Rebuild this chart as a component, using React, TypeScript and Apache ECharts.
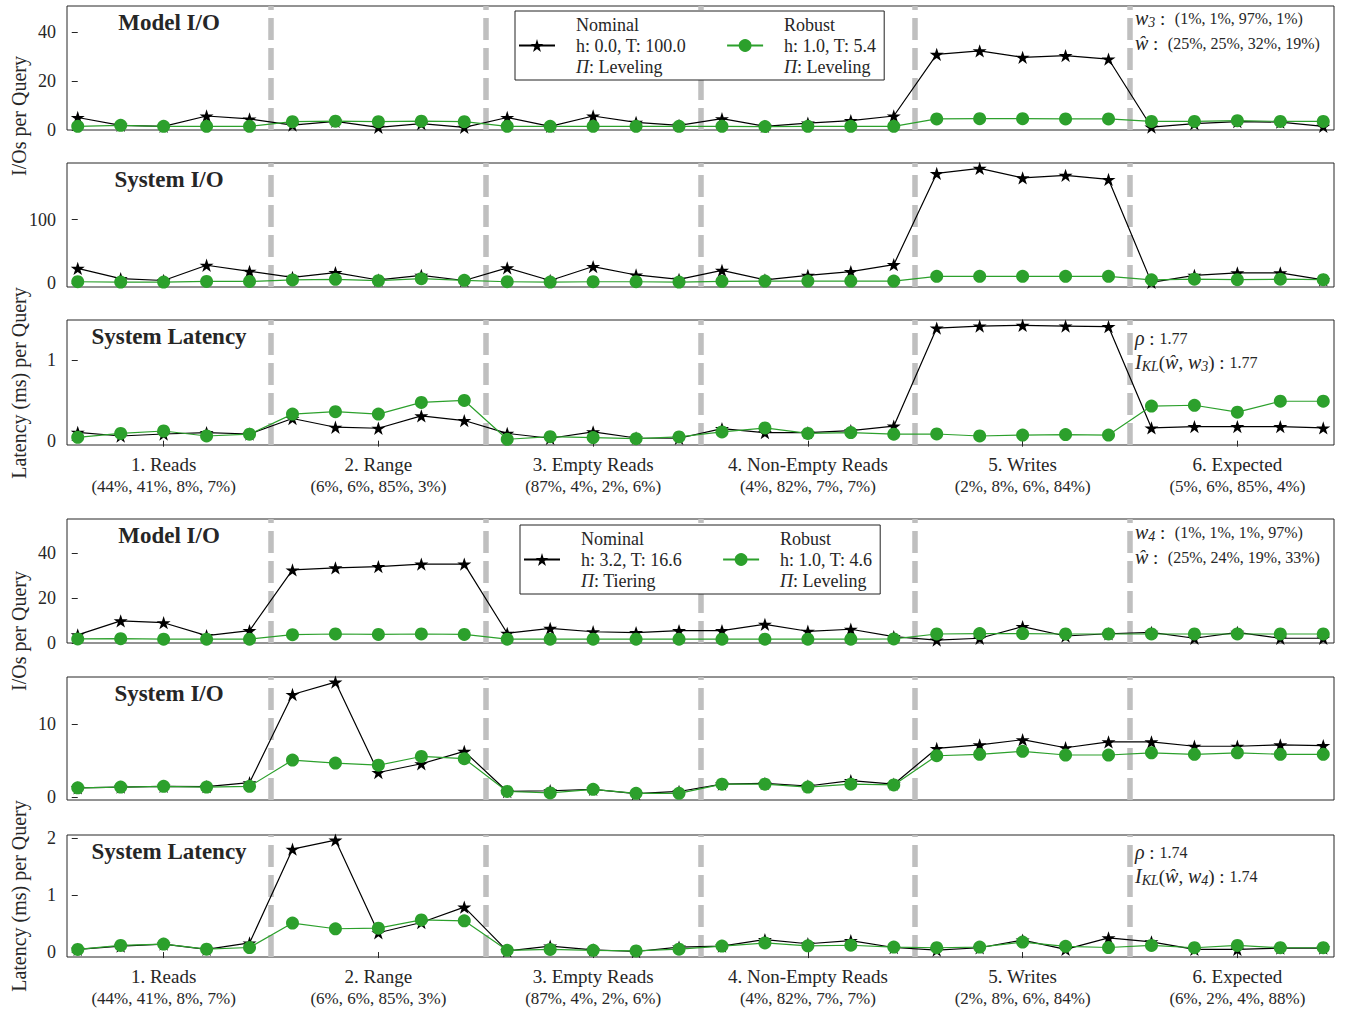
import React, { useEffect, useRef } from 'react';
import * as echarts from 'echarts';

// ---------- data ----------
const groups = ['1. Reads', '2. Range', '3. Empty Reads', '4. Non-Empty Reads', '5. Writes', '6. Expected'];
const mixesTop = ['(44%, 41%, 8%, 7%)', '(6%, 6%, 85%, 3%)', '(87%, 4%, 2%, 6%)', '(4%, 82%, 7%, 7%)', '(2%, 8%, 6%, 84%)', '(5%, 6%, 85%, 4%)'];
const mixesBottom = ['(44%, 41%, 8%, 7%)', '(6%, 6%, 85%, 3%)', '(87%, 4%, 2%, 6%)', '(4%, 82%, 7%, 7%)', '(2%, 8%, 6%, 84%)', '(6%, 2%, 4%, 88%)'];
const groupCenters = [2, 7, 12, 17, 22, 27];
const groupBoundaries = [4.5, 9.5, 14.5, 19.5, 24.5];

const topModelNominal = [5.1, 1.9, 1.5, 5.7, 4.5, 2.0, 3.5, 1.1, 2.6, 1.1, 5.1, 1.5, 5.7, 3.1, 1.9, 4.6, 1.5, 2.8, 3.8, 5.7, 30.8, 32.2, 29.6, 30.3, 28.9, 1.2, 2.6, 3.4, 3.2, 1.5];
const topModelRobust = [1.5, 1.9, 1.5, 1.5, 1.5, 3.4, 3.6, 3.4, 3.6, 3.4, 1.5, 1.5, 1.5, 1.5, 1.5, 1.5, 1.4, 1.5, 1.5, 1.5, 4.5, 4.6, 4.6, 4.5, 4.5, 3.5, 3.5, 3.8, 3.5, 3.5];
const topSysNominal = [23, 7, 4, 28, 18.5, 9, 16.4, 4.8, 12, 4, 24, 4, 26, 12.7, 5.8, 20, 5, 12, 18, 29, 173, 181, 166, 170, 163.5, 1, 12, 16, 16, 5];
const topSysRobust = [2, 1.5, 1.5, 2.5, 2.5, 4.8, 5.8, 3.7, 6.9, 4.2, 2, 1.5, 2, 2, 1.5, 2.6, 3, 3, 3, 3, 10.5, 10.5, 10.5, 10.5, 10.5, 5, 6, 5.3, 6, 5.3];
const topLatNominal = [0.104, 0.058, 0.083, 0.1, 0.083, 0.275, 0.167, 0.154, 0.308, 0.25, 0.09, 0.03, 0.11, 0.033, 0.03, 0.15, 0.1, 0.1, 0.125, 0.18, 1.4, 1.425, 1.433, 1.425, 1.417, 0.158, 0.175, 0.175, 0.175, 0.158];
const topLatRobust = [0.042, 0.09, 0.12, 0.058, 0.08, 0.33, 0.36, 0.33, 0.475, 0.5, 0.017, 0.05, 0.038, 0.025, 0.046, 0.108, 0.158, 0.09, 0.1, 0.08, 0.083, 0.058, 0.07, 0.075, 0.07, 0.43, 0.44, 0.354, 0.49, 0.49];

const botModelNominal = [3.6, 9.8, 9.0, 3.3, 5.5, 32.4, 33.3, 33.9, 35, 35, 4.3, 6.5, 5.0, 4.6, 5.5, 5.5, 8.3, 5.2, 6.1, 2.8, 1.3, 2.1, 7.3, 3.1, 4.1, 4.7, 2.1, 4.7, 2.1, 2.1];
const botModelRobust = [1.8, 1.9, 1.7, 1.7, 1.7, 3.7, 4.0, 3.8, 4.0, 3.8, 1.7, 1.7, 1.7, 1.7, 1.7, 1.7, 1.7, 1.7, 1.7, 1.8, 4.0, 4.2, 4.2, 4.0, 4.0, 4.0, 4.0, 4.0, 4.0, 4.0];
const botSysNominal = [1.3, 1.4, 1.5, 1.46, 2.0, 14.1, 15.8, 3.4, 4.6, 6.3, 0.8, 0.9, 1.1, 0.5, 0.8, 1.8, 1.9, 1.55, 2.3, 1.8, 6.7, 7.2, 7.9, 6.8, 7.6, 7.6, 7.0, 7.0, 7.2, 7.1];
const botSysRobust = [1.3, 1.4, 1.5, 1.4, 1.5, 5.1, 4.7, 4.4, 5.6, 5.3, 0.8, 0.6, 1.1, 0.55, 0.55, 1.8, 1.8, 1.4, 1.8, 1.7, 5.7, 5.9, 6.3, 5.8, 5.8, 6.1, 5.9, 6.1, 5.9, 5.9];
const botLatNominal = [0.047, 0.105, 0.14, 0.047, 0.16, 1.81, 1.97, 0.34, 0.52, 0.79, 0.02, 0.105, 0.04, 0.01, 0.087, 0.105, 0.22, 0.146, 0.2, 0.08, 0.035, 0.076, 0.21, 0.047, 0.25, 0.18, 0.047, 0.047, 0.07, 0.07];
const botLatRobust = [0.047, 0.117, 0.14, 0.05, 0.08, 0.51, 0.41, 0.42, 0.565, 0.55, 0.03, 0.047, 0.03, 0.02, 0.05, 0.105, 0.16, 0.11, 0.12, 0.087, 0.076, 0.087, 0.175, 0.1, 0.08, 0.117, 0.076, 0.117, 0.076, 0.076];

const legendTop = { nominal: ['Nominal', 'h: 0.0, T: 100.0', 'Leveling'], robust: ['Robust', 'h: 1.0, T: 5.4', 'Leveling'] };
const legendBottom = { nominal: ['Nominal', 'h: 3.2, T: 16.6', 'Tiering'], robust: ['Robust', 'h: 1.0, T: 4.6', 'Leveling'] };
const wTop = { idx: '3', w: '(1%, 1%, 97%, 1%)', what: '(25%, 25%, 32%, 19%)', rho: '1.77', ikl: '1.77' };
const wBottom = { idx: '4', w: '(1%, 1%, 1%, 97%)', what: '(25%, 24%, 19%, 33%)', rho: '1.74', ikl: '1.74' };

// ---------- styles / layout ----------
const FONT = '"Liberation Serif", "DejaVu Serif", serif';
const GREEN = '#2ca02c';
const INK = '#262626';
const STAR = 'path://M100,0L122.45,69.1L195.11,69.1L136.33,111.8L158.78,180.9L100,138.2L41.22,180.9L63.67,111.8L4.89,69.1L77.55,69.1Z';

const panels = [
  { top: 6, height: 124, yMin: 0, yMax: 50.5, yTicks: [0, 20, 40], nominal: topModelNominal, robust: topModelRobust, title: 'Model I/O', mixes: null },
  { top: 163, height: 124, yMin: -6.3, yMax: 189.5, yTicks: [0, 100], nominal: topSysNominal, robust: topSysRobust, title: 'System I/O', mixes: null },
  { top: 320, height: 125, yMin: -0.054, yMax: 1.5, yTicks: [0, 1], nominal: topLatNominal, robust: topLatRobust, title: 'System Latency', mixes: mixesTop },
  { top: 519, height: 124, yMin: 0, yMax: 55, yTicks: [0, 20, 40], nominal: botModelNominal, robust: botModelRobust, title: 'Model I/O', mixes: null },
  { top: 677, height: 123, yMin: -0.37, yMax: 16.5, yTicks: [0, 10], nominal: botSysNominal, robust: botSysRobust, title: 'System I/O', mixes: null },
  { top: 835, height: 122, yMin: -0.087, yMax: 2.06, yTicks: [0, 1, 2], nominal: botLatNominal, robust: botLatRobust, title: 'System Latency', mixes: mixesBottom },
];

const GRID_LEFT = 67;
const GRID_RIGHT = 11;

function buildOption() {
  const grid = panels.map((p) => ({
    left: GRID_LEFT, right: GRID_RIGHT, top: p.top, height: p.height,
    show: true, borderColor: INK, borderWidth: 1, backgroundColor: 'transparent',
  }));

  const xAxis = panels.map((p, i) => ({
    gridIndex: i, type: 'value', min: -0.25, max: 29.25,
    axisLine: { show: false },
    splitLine: { show: false },
    axisTick: { show: !!p.mixes, customValues: groupCenters, length: 6, lineStyle: { color: INK, width: 1 } },
    axisLabel: {
      show: !!p.mixes, customValues: groupCenters, margin: 8,
      fontFamily: FONT, color: INK,
      rich: {
        a: { fontFamily: FONT, fontSize: 19, color: INK, lineHeight: 22 },
        b: { fontFamily: FONT, fontSize: 17, color: INK, lineHeight: 22 },
      },
      formatter: (v: number) => {
        const k = groupCenters.indexOf(Math.round(v));
        return k < 0 || !p.mixes ? '' : `{a|${groups[k]}}\n{b|${p.mixes[k]}}`;
      },
    },
  }));

  const yAxis = panels.map((p, i) => ({
    gridIndex: i, type: 'value', min: p.yMin, max: p.yMax,
    axisLine: { show: false },
    splitLine: { show: false },
    axisTick: { show: true, customValues: p.yTicks, length: 6, lineStyle: { color: INK, width: 1 } },
    axisLabel: { customValues: p.yTicks, margin: 11, fontFamily: FONT, fontSize: 18, color: INK },
  }));

  const series: any[] = [];
  panels.forEach((p, i) => {
    series.push({
      name: 'Nominal', type: 'line', xAxisIndex: i, yAxisIndex: i,
      data: p.nominal.map((v, k) => [k, v]),
      symbol: STAR, symbolSize: 14, symbolKeepAspect: true,
      itemStyle: { color: '#000' }, lineStyle: { color: '#000', width: 1.2 },
      z: 3, silent: true,
      markLine: {
        silent: true, z: 1, symbol: ['none', 'none'], label: { show: false },
        lineStyle: { color: '#bfbfbf', width: 5.5, type: [22, 8], opacity: 1 },
        emphasis: { disabled: true },
        data: groupBoundaries.map((x) => ({ xAxis: x })),
      },
    });
    series.push({
      name: 'Robust', type: 'line', xAxisIndex: i, yAxisIndex: i,
      data: p.robust.map((v, k) => [k, v]),
      symbol: 'circle', symbolSize: 13,
      itemStyle: { color: GREEN }, lineStyle: { color: GREEN, width: 1.2 },
      z: 4, silent: true,
    });
  });

  const legendFor = (info: any, left: number, top: number) => ({
    show: true, left, top, orient: 'horizontal', selectedMode: false,
    data: ['Nominal', 'Robust'],
    itemWidth: 36, itemHeight: 16, itemGap: 40,
    padding: [3, 8, 3, 3],
    borderColor: '#222', borderWidth: 1, borderRadius: 0, backgroundColor: '#fff',
    textStyle: {
      fontFamily: FONT, fontSize: 18, color: INK, lineHeight: 21, padding: [0, 0, 0, 16],
      rich: { pi: { fontFamily: FONT, fontStyle: 'italic', fontSize: 18, color: INK, lineHeight: 21 } },
    },
    formatter: (name: string) => {
      const l = name === 'Nominal' ? info.nominal : info.robust;
      return `${l[0]}\n${l[1]}\n{pi|Π}: ${l[2]}`;
    },
  });

  const rich = {
    m: { fontFamily: FONT, fontStyle: 'italic', fontSize: 20, color: INK, lineHeight: 22 },
    sub: { fontFamily: FONT, fontStyle: 'italic', fontSize: 14, color: INK, lineHeight: 14, verticalAlign: 'bottom' },
    c: { fontFamily: FONT, fontSize: 19, color: INK, lineHeight: 22 },
    s: { fontFamily: FONT, fontSize: 16, color: INK, lineHeight: 22 },
  };
  const annot = (x: number, y: number, text: string) => ({
    type: 'text', x, y, silent: true, z: 10,
    style: { text, rich, textAlign: 'left', textVerticalAlign: 'middle', fill: INK },
  });
  const title = (y: number, text: string) => ({
    type: 'text', x: 169, y, silent: true, z: 10,
    style: { text, font: `bold 23px ${FONT}`, fill: INK, textAlign: 'center', textVerticalAlign: 'middle' },
  });
  const yName = (y: number, text: string) => ({
    type: 'text', x: 19, y, rotation: Math.PI / 2, silent: true,
    style: { text, font: `20px ${FONT}`, fill: INK, textAlign: 'center', textVerticalAlign: 'middle' },
  });

  const graphic: any[] = [];
  panels.forEach((p) => graphic.push(title(p.top + 16, p.title)));
  graphic.push(yName(116, 'I/Os per Query'));
  graphic.push(yName(383, 'Latency (ms) per Query'));
  graphic.push(yName(631, 'I/Os per Query'));
  graphic.push(yName(896, 'Latency (ms) per Query'));

  const ann = (info: any, wTop: number, rTop: number) => {
    graphic.push(annot(1135, wTop, `{m|w}{sub|${info.idx}}{c| :  }{s|${info.w}}`));
    graphic.push(annot(1135, wTop + 25, `{m|ŵ}{c| :  }{s|${info.what}}`));
    graphic.push(annot(1135, rTop, `{m|ρ}{c| : }{s|${info.rho}}`));
    graphic.push(annot(1135, rTop + 24, `{m|I}{sub|KL}{c|(}{m|ŵ}{c|, }{m|w}{sub|${info.idx}}{c|) : }{s|${info.ikl}}`));
  };
  ann(wTop, 18, 338);
  ann(wBottom, 532, 852);

  return {
    animation: false,
    backgroundColor: '#fff',
    textStyle: { fontFamily: FONT },
    grid, xAxis, yAxis, series,
    legend: [legendFor(legendTop, 515, 11), legendFor(legendBottom, 520, 525)],
    graphic,
  };
}

export default function App() {
  const ref = useRef<HTMLDivElement>(null);
  useEffect(() => {
    if (!ref.current) return;
    const chart = echarts.init(ref.current, undefined, { renderer: 'svg' });
    chart.setOption(buildOption() as any);
    return () => chart.dispose();
  }, []);
  return <div ref={ref} style={{ position: 'absolute', left: 0, top: 0, width: 1345, height: 1013 }} />;
}
